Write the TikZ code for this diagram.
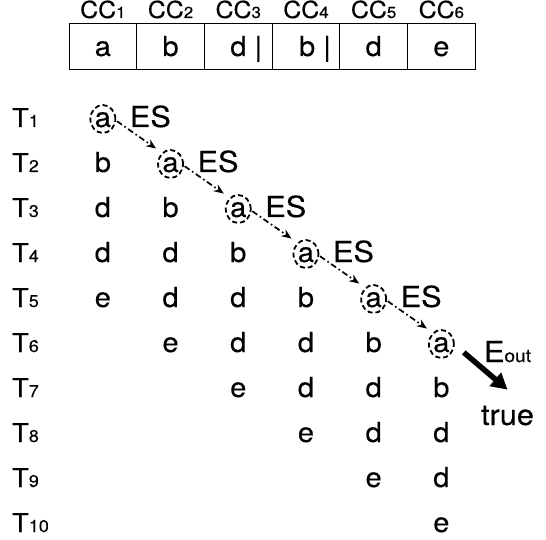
\documentclass[tikz,border=0pt]{standalone}
\usepackage{fontspec}
\setmainfont{TeX Gyre Heros}[FakeStretch=1.06, FakeBold=0.2]
\usetikzlibrary{shapes.geometric,arrows.meta}

% smaller text set on the same baseline (indices)
\newcommand\idx[2]{{\fontsize{#1}{#1}\selectfont #2}}

\begin{document}
\begin{tikzpicture}[x=1pt,y=-1pt,
  every node/.style={inner sep=0pt, outer sep=0pt},
  letter/.style={font=\fontsize{27.5}{27.5}\selectfont, anchor=base},
  big/.style={font=\fontsize{29}{29}\selectfont, anchor=base west},
  tlabel/.style={font=\fontsize{26}{26}\selectfont, anchor=base west},
  cclabel/.style={font=\fontsize{23.5}{23.5}\selectfont, anchor=base},
  cellbox/.style={draw, line width=0.9pt, minimum width=67.7pt, minimum height=46pt},
  hit/.style={letter, ellipse, draw, dash pattern=on 5pt off 3pt, line width=1.8pt,
    minimum width=25pt, minimum height=28pt, text height=16pt, text depth=0pt},
  esarrow/.style={line width=1.7pt, dash pattern=on 6pt off 3pt on 1.6pt off 3pt,
    -{Stealth[length=10pt,width=8pt]}},
  outarrow/.style={line width=5.5pt, -{Triangle[length=16pt,width=17pt]}},
]
\useasboundingbox (0,0) rectangle (546,540);

% header table
\foreach \c/\v/\dx in {1/a/0,2/b/0,3/{d |}/8,4/{b |}/9,5/d/0,6/e/0}{
  \pgfmathsetmacro\cx{69+67.7*(\c-0.5)}
  \node[cellbox] (cell\c) at (\cx,46) {};
  \node[letter] (val\c) at (\cx+\dx,56) {\v};
  \node[cclabel] (cc\c) at (\cx,18) {CC\idx{16}{\c}};
}

% transaction labels
\foreach \r in {1,...,10}{
  \pgfmathsetmacro\by{127+45*(\r-1)}
  \node[tlabel] (t\r) at (12,\by) {T\idx{17}{\r}};
}

% diagonal contents: a b d d e shifted one column per row
\foreach \r in {1,...,10}{
  \foreach \c in {1,...,6}{
    \pgfmathtruncatemacro\k{\r-\c}
    \pgfmathsetmacro\cx{69+67.7*(\c-0.5)}
    \pgfmathsetmacro\by{127+45*(\r-1)}
    \ifnum\k=0
      \node[hit] (h\c) at (\cx,\by) {a};
    \else\ifnum\k>0\ifnum\k<5
      \node[letter] (r\r c\c) at (\cx,\by) {\ifcase\k\or b\or d\or d\or e\fi};
    \fi\fi\fi
  }
}

% ES labels beside the first five hits
\foreach \c in {1,...,5}{
  \node[big] (es\c) at ([xshift=27pt]h\c.base) {ES};
}

% ES hand-over arrows
\foreach \c [evaluate=\c as \n using int(\c+1)] in {1,...,5}{
  \draw[esarrow, shorten <=2pt, shorten >=8pt] (h\c.-5) -- (h\n.126);
}

% output
\node[big] (eout) at (484,362) {E\idx{18}{out}};
\node[big] (res) at (481,425) {true};
\draw[outarrow, shorten <=13pt] (h6.east) -- ([yshift=16pt]res.north);
\end{tikzpicture}
\end{document}
